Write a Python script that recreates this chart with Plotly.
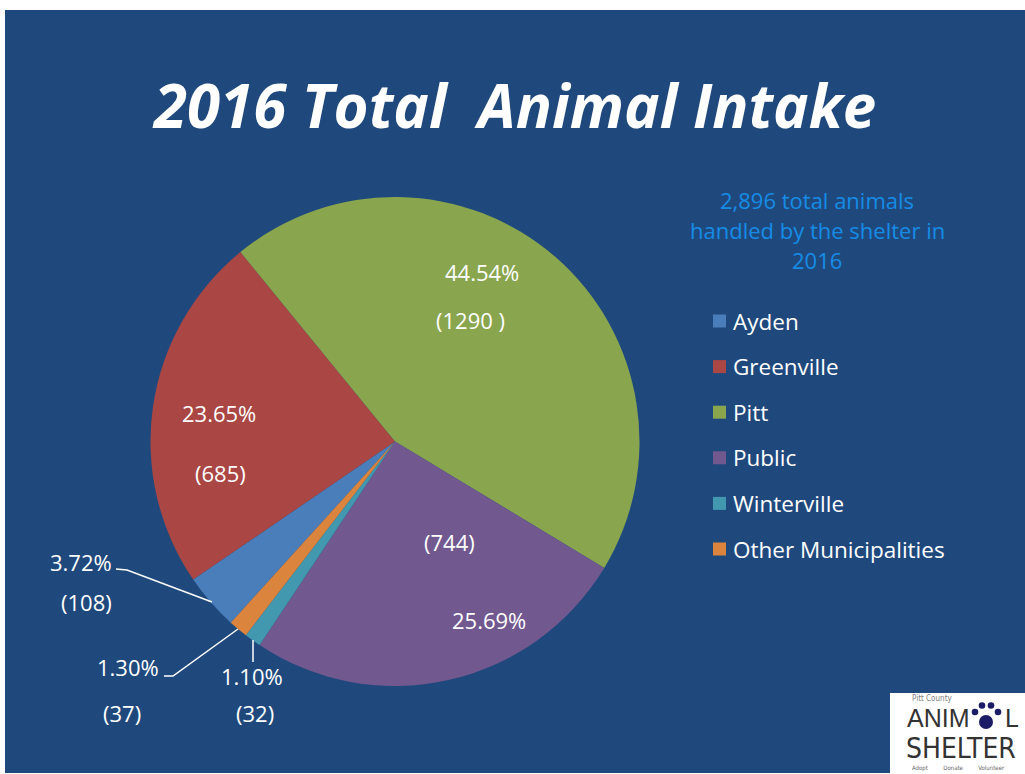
import plotly.graph_objects as go

# ---- data -------------------------------------------------------------
regions = ["Ayden", "Greenville", "Pitt", "Public", "Winterville", "Other Municipalities"]
intake = [108, 685, 1290, 744, 32, 37]
pct_labels = ["3.72%", "23.65%", "44.54%", "25.69%", "1.10%", "1.30%"]
count_pad = ["", "", " ", "", "", ""]
total_animals = 2896
year = 2016

# ---- styling ----------------------------------------------------------
W, H = 1025, 774
BG = "#1F497D"
slice_colors = ["#4A7EBB", "#AA4643", "#89A54E", "#71588F", "#4198AF", "#DB843D"]
FONT = "Open Sans, Lato, DejaVu Sans, sans-serif"
NARROW = "Liberation Sans Narrow, DejaVu Sans Condensed, Liberation Sans, sans-serif"
PLAIN = "Liberation Sans, Arial, sans-serif"


def px(x, y):
    """pixel position -> paper coordinates"""
    return x / W, 1 - y / H


# pie geometry (pixels)
cx, cy, r = 395, 441.5, 244.5

fig = go.Figure()
fig.add_trace(go.Pie(
    labels=regions,
    values=intake,
    sort=False,
    direction="clockwise",
    rotation=-137.8,
    marker=dict(colors=slice_colors, line=dict(width=0)),
    textinfo="none",
    hoverinfo="label+value+percent",
    showlegend=False,
    domain=dict(x=[(cx - r) / W, (cx + r) / W], y=[1 - (cy + r) / H, 1 - (cy - r) / H]),
))

shapes = []
annotations = []


def add_text(txt, x, y, size, color="white", family=FONT, anchor="center", **font_kw):
    u, v = px(x, y)
    annotations.append(dict(text=txt, x=u, y=v, xref="paper", yref="paper", showarrow=False,
                            xanchor=anchor, yanchor="middle",
                            font=dict(family=family, size=size, color=color, **font_kw)))


def add_rect(xa, ya, xb, yb, color, kind="rect", layer="above"):
    u0, v0 = px(xa, ya)
    u1, v1 = px(xb, yb)
    shapes.append(dict(type=kind, xref="paper", yref="paper", x0=u0, y0=v1, x1=u1, y1=v0,
                       fillcolor=color, line=dict(width=0), layer=layer))


# slide background with thin white frame
add_rect(5, 10, 1025, 773, BG, layer="below")

# title
add_text("2016 Total  Animal Intake", 514, 105, 60, weight="bold", style="italic")

# subtitle block
sub_lines = [f"{total_animals:,} total animals", "handled by the shelter in", f"{year}"]
for i, line in enumerate(sub_lines):
    add_text(line, 817, 200 + 30 * i, 22, color="#168CE6")

# legend (squares + names)
for i, (name, col) in enumerate(zip(regions, slice_colors)):
    ly = 321 + 45.6 * i
    add_rect(713, ly - 6.5, 726, ly + 6.5, col)
    add_text(name, 731, ly, 22.5, anchor="left")

# data labels: percentage and count, pixel centres of each line
label_pos = [
    ((81, 562), (86, 602)),     # Ayden
    ((219, 413), (220, 473)),   # Greenville
    ((482, 272), (470, 320)),   # Pitt
    ((489, 620), (449, 542)),   # Public
    ((252, 676), (255, 713)),   # Winterville
    ((128, 667), (122, 713)),   # Other Municipalities
]
for pct, v, pad, (p_pos, c_pos) in zip(pct_labels, intake, count_pad, label_pos):
    add_text(pct, *p_pos, 22)
    add_text(f"({v}{pad})", *c_pos, 22)

# leader lines for the thin outside-labelled slices
leaders = [
    [(116, 569), (127, 570), (212, 602)],
    [(164, 676), (173, 676), (238, 629)],
    [(253, 640), (253, 662)],
]
for pts in leaders:
    path = ""
    for k, (x, y) in enumerate(pts):
        u, v = px(x, y)
        path += ("M" if k == 0 else " L") + f" {u:.5f},{v:.5f}"
    shapes.append(dict(type="path", xref="paper", yref="paper", path=path,
                       line=dict(color="white", width=1.5)))

# shelter logo badge, bottom right
add_rect(890, 693, 1025, 774, "white")
add_text("Pitt County", 910, 698.5, 8, color="#808080", family=NARROW, anchor="left")
add_text("ANIM", 905, 718, 25, color="#333333", family=PLAIN, anchor="left")
add_text("L", 1003, 718, 25, color="#333333", family=PLAIN, anchor="left")
add_text("SHELTER", 961, 748.5, 28, color="#333333", family=NARROW)
add_text("Adopt" + "\u00a0" * 9 + "Donate" + "\u00a0" * 9 + "Volunteer", 958, 768, 6,
         color="#666666", family=NARROW)
# paw print
paw = [(986, 722, 7.0), (975, 712, 3.3), (982, 705.5, 3.3), (991, 705.5, 3.3), (998, 712, 3.3)]
for x, y, rr in paw:
    add_rect(x - rr, y - rr, x + rr, y + rr, "#1C1C66", kind="circle")

fig.update_layout(
    width=W, height=H,
    margin=dict(l=0, r=0, t=0, b=0),
    paper_bgcolor="white",
    plot_bgcolor="white",
    shapes=shapes,
    annotations=annotations,
    showlegend=False,
)

fig.write_html("out.html")
